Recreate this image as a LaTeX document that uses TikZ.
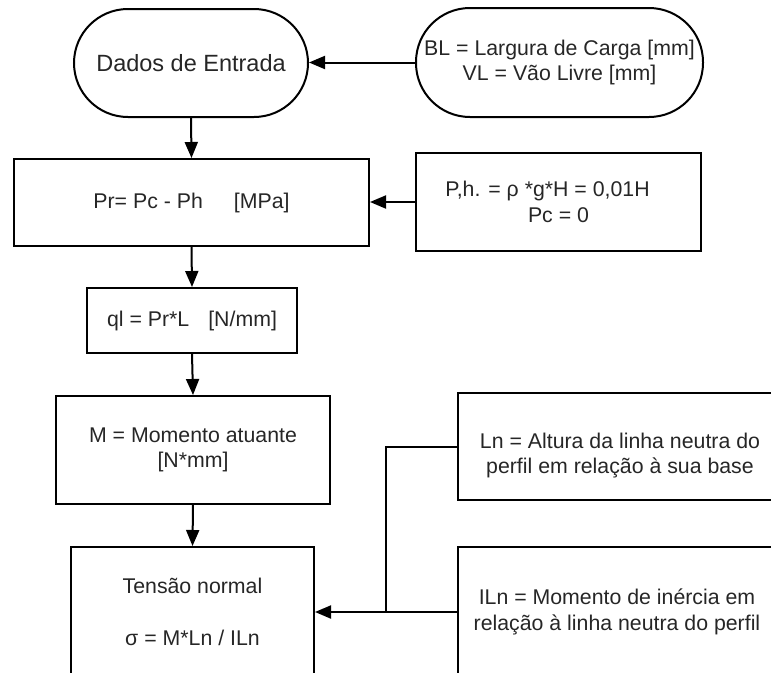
\documentclass[tikz,border=0pt]{standalone}
\usepackage{fontspec}
\setmainfont{Liberation Sans}
\usetikzlibrary{arrows.meta}
\definecolor{txt}{HTML}{262626}
\begin{document}
\begin{tikzpicture}[x=1pt,y=-1pt,
  box/.style={draw=black, line width=2pt, text=txt, align=center,
    font=\fontsize{21.3}{25.5}\selectfont, inner sep=0pt},
  pill/.style={box, rounded corners=54pt},
  conn/.style={draw=black, line width=2pt},
  arr/.style={conn, -{Triangle[length=16pt,width=13pt]}}]
\useasboundingbox (0,0) rectangle (771,672);
\clip (0,0) rectangle (771,672);
% nodes
\node[pill, minimum width=234pt, minimum height=108pt,
  font=\fontsize{23.5}{28}\selectfont] (dados) at (191,63) {Dados de Entrada};
\node[pill, minimum width=287pt, minimum height=109pt] (bl) at (559.5,62.5)
  {BL = Largura de Carga [mm]\\VL = Vão Livre [mm]};
\node[box, minimum width=355pt, minimum height=87pt] (pr) at (191.5,202.5)
  {Pr= Pc - Ph\hspace*{31pt}[MPa]};
\node[box, minimum width=285pt, minimum height=98pt] (ph) at (558.5,202)
  {P,h. = ρ *g*H = 0,01H\hspace*{22pt}\\Pc = 0};
\node[box, minimum width=210pt, minimum height=65pt] (ql) at (192,320.5)
  {ql = Pr*L\hspace*{19pt}[N/mm]};
\node[box, minimum width=274pt, minimum height=108pt] (m) at (193,450)
  {M = Momento atuante\\{[N*mm]}};
\node[box, minimum width=243pt, minimum height=130pt] (t) at (192.5,612)
  {Tensão normal\\[27pt]σ = M*Ln / ILn};
\node[box, minimum width=324pt, minimum height=107pt] (ln) at (620,446.5)
  {\rule{0pt}{33.5pt}Ln = Altura da linha neutra do\\perfil em relação à sua base};
\node[box, minimum width=318pt, minimum height=130pt] (iln) at (617,612)
  {ILn = Momento de inércia em\\relação à linha neutra do perfil};
\coordinate (j) at (386,612);
% connectors
\draw[arr] (bl.west) -- (bl.west -| dados.east);
\draw[arr] (dados.south) -- (pr.north);
\draw[arr] (ph.west) -- (ph.west -| pr.east);
\draw[arr] (pr.south) -- (ql.north);
\draw[arr] (ql.south) -- (m.north);
\draw[arr] (m.south) -- (t.north);
\draw[conn] (ln.west) -| (j);
\draw[arr] (iln.west) -- (t.east);
\end{tikzpicture}
\end{document}
